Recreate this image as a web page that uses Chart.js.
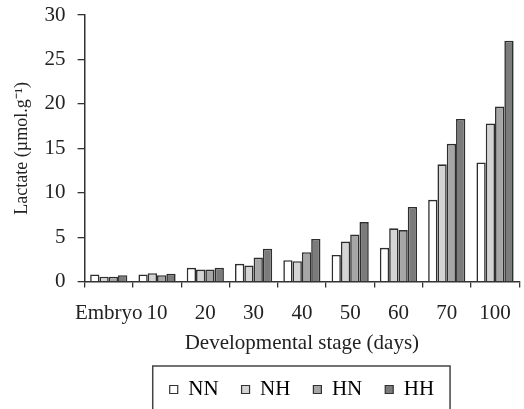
<!DOCTYPE html>
<html>
<head>
<meta charset="utf-8">
<script src="https://cdn.jsdelivr.net/npm/chart.js@4"></script>
<style>
  html, body { margin: 0; padding: 0; background: #fff; }
  #wrap { width: 524px; height: 409px; }
</style>
</head>
<body>
<div id="wrap"><canvas id="lactateChart" width="524" height="409"></canvas></div>
<script>
// Values (µmol/g)
const stages = ["Embryo", "10", "20", "30", "40", "50", "60", "70", "100"];
const nn = [0.8, 0.8, 1.55, 2.0, 2.4, 3.0, 3.8, 9.2, 13.4];
const nh = [0.55, 0.95, 1.35, 1.8, 2.3, 4.5, 6.0, 13.2, 17.8];
const hn = [0.55, 0.72, 1.35, 2.7, 3.3, 5.3, 5.8, 15.5, 19.7];
const hh = [0.72, 0.87, 1.55, 3.7, 4.8, 6.7, 8.4, 18.3, 27.1];
const yTicks = [0, 5, 10, 15, 20, 25, 30];

const serif = "'Liberation Serif', 'Times New Roman', serif";

function makeSet(label, values, color) {
  return {
    label: label,
    data: values,
    backgroundColor: color,
    borderColor: '#2e2e2e',
    borderWidth: 1.6,
    categoryPercentage: 0.77,
    barPercentage: 1.0
  };
}

// draws the frame round the legend (cut off at the bottom like the figure)
const legendFrame = {
  id: 'legendFrame',
  afterDraw(chart) {
    const lg = chart.legend;
    if (!lg || !lg.legendHitBoxes.length) return;
    const boxes = lg.legendHitBoxes;
    const first = boxes[0], last = boxes[boxes.length - 1];
    const x0 = first.left - 17;
    const x1 = last.left + last.width + 16;
    const y0 = first.top - 13;
    const ctx = chart.ctx;
    ctx.save();
    ctx.strokeStyle = '#444';
    ctx.lineWidth = 1.5;
    ctx.beginPath();
    ctx.moveTo(x0, chart.height + 5);
    ctx.lineTo(x0, y0);
    ctx.lineTo(x1, y0);
    ctx.lineTo(x1, chart.height + 5);
    ctx.stroke();
    ctx.restore();
  }
};

window.onload = function () {
  const ctx = document.getElementById('lactateChart').getContext('2d');
  new Chart(ctx, {
    type: 'bar',
    data: {
      labels: stages,
      datasets: [
        makeSet('NN', nn, '#ffffff'),
        makeSet('NH', nh, '#d4d4d4'),
        makeSet('HN', hn, '#a6a6a6'),
        makeSet('HH', hh, '#7b7b7b')
      ]
    },
    options: {
      responsive: false,
      animation: false,
      layout: { padding: { top: 0, right: 4, left: 11, bottom: -1 } },
      plugins: {
        tooltip: { enabled: false },
        legend: {
          position: 'bottom',
          fullSize: false,
          labels: {
            color: '#222',
            font: { family: serif, size: 21 },
            boxWidth: 8,
            boxHeight: 8,
            padding: 23,
            generateLabels(chart) {
              return chart.data.datasets.map((ds, i) => ({
                text: ds.label,
                fillStyle: ds.backgroundColor,
                strokeStyle: '#333',
                lineWidth: 1.2,
                datasetIndex: i
              }));
            }
          }
        }
      },
      scales: {
        x: {
          grid: {
            offset: true,
            drawOnChartArea: false,
            drawTicks: true,
            tickLength: 6,
            color: '#333',
            lineWidth: 1.3
          },
          border: { display: true, color: '#333', width: 1.5 },
          ticks: {
            color: '#222',
            font: { family: serif, size: 21 },
            padding: 13,
            maxRotation: 0,
            autoSkip: false
          },
          title: {
            display: true,
            text: 'Developmental stage (days)',
            color: '#222',
            font: { family: serif, size: 21 },
            padding: { top: -8, bottom: 0 }
          }
        },
        y: {
          min: 0,
          max: 30,
          afterBuildTicks(scale) {
            scale.ticks = yTicks.map(v => ({ value: v }));
          },
          // keep the plot top close to the "30" label
          afterFit(scale) {
            scale.paddingTop = 15;
            scale.paddingBottom = 12;
          },
          grid: {
            drawOnChartArea: false,
            drawTicks: true,
            tickLength: 7,
            color: '#333',
            lineWidth: 1.3
          },
          border: { display: true, color: '#333', width: 1.5 },
          ticks: {
            color: '#222',
            font: { family: serif, size: 21 },
            padding: 12
          },
          title: {
            display: true,
            text: 'Lactate (µmol.g⁻¹)',
            color: '#222',
            font: { family: serif, size: 18 },
            padding: { top: 0, bottom: 0 }
          }
        }
      }
    },
    plugins: [legendFrame]
  });
};
</script>
</body>
</html>
